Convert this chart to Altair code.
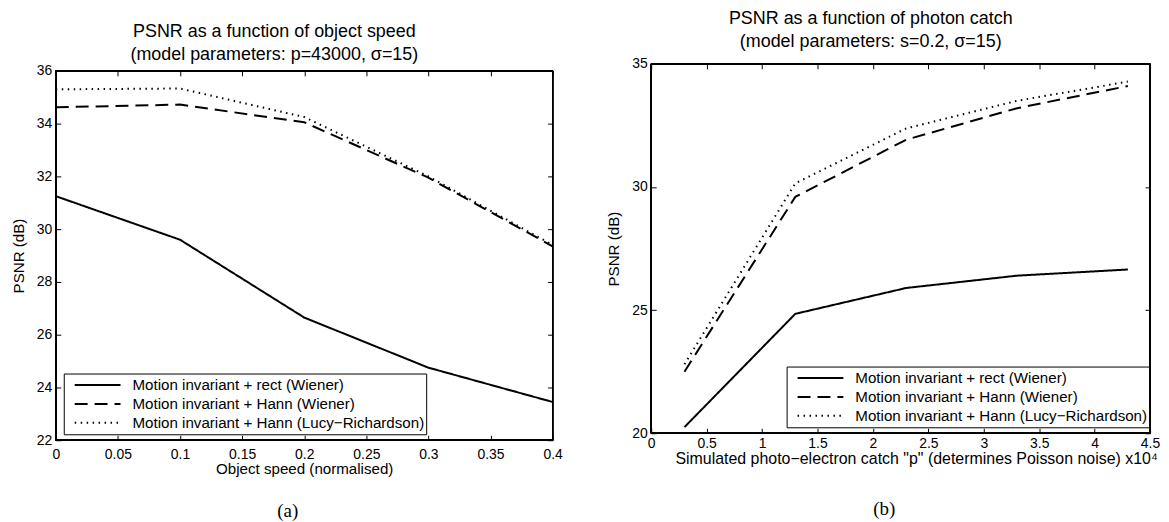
import altair as alt
import pandas as pd

FONT = "Liberation Sans"
SERIF = "Liberation Serif"

methods = [
    "Motion invariant + rect (Wiener)",
    "Motion invariant + Hann (Wiener)",
    "Motion invariant + Hann (Lucy\u2212Richardson)",
]
dash_range = [[1, 0], [13, 7], [1.5, 4.5]]
width_range = [2, 2, 1.6]

# Panel (a): PSNR vs object speed
speed = [0, 0.1, 0.2, 0.3, 0.4]
speed_rect = [31.25, 29.6, 26.65, 24.75, 23.45]
speed_hann_w = [34.62, 34.72, 34.05, 31.95, 29.35]
speed_hann_lr = [35.3, 35.33, 34.25, 32.0, 29.4]
speed_ticks = [0, 0.05, 0.1, 0.15, 0.2, 0.25, 0.3, 0.35, 0.4]
speed_yticks = [22, 24, 26, 28, 30, 32, 34, 36]

# Panel (b): PSNR vs photon catch (x10^4)
catch = [0.3, 1.3, 2.3, 3.3, 4.3]
catch_rect = [20.25, 24.85, 25.9, 26.4, 26.65]
catch_hann_w = [22.5, 29.6, 31.92, 33.2, 34.1]
catch_hann_lr = [22.8, 30.15, 32.38, 33.5, 34.28]
catch_ticks = [0, 0.5, 1, 1.5, 2, 2.5, 3, 3.5, 4, 4.5]
catch_yticks = [20, 25, 30, 35]

H = 371        # plot-box height of each panel
SHIFT = 7      # panel (a) box sits this much lower than panel (b)
GH = H + SHIFT # height of each panel group
TK = 5         # inward tick length
TICK = 14
TXT = 15.2


def panel(xs, series, xdom, xticks, ydom, yticks, title, xtitle, caption, W,
          top, legend_xy, title_offset, cap_xy, xlabel_pad, xtitle_x=None,
          xtitle_size=TXT):
    rows = []
    for m, vals in zip(methods, series):
        for xv, yv in zip(xs, vals):
            rows.append({"x": xv, "y": yv, "method": m})
    df = pd.DataFrame(rows)

    bottom_gap = GH - (top + H)
    xscale = alt.Scale(domain=xdom, nice=False, zero=False)
    yscale = alt.Scale(domain=ydom, nice=False, zero=False, range=[top + H, top])

    xaxis_kw = dict(
        values=xticks, format="~g", title=xtitle, orient="bottom", grid=False,
        ticks=True, tickSize=TK, domain=False, labelFlush=False, labelOverlap=False,
        labelPadding=xlabel_pad, titlePadding=0, offset=-(TK + bottom_gap),
        titleFontSize=xtitle_size,
    )
    if xtitle_x is not None:
        xaxis_kw["titleX"] = xtitle_x
        xaxis_kw["titleAlign"] = "center"
    yaxis = alt.Axis(
        values=yticks, format="d", title="PSNR (dB)", orient="left", grid=False,
        ticks=True, tickSize=TK, domain=False, labelFlush=False, labelOverlap=False,
        labelPadding=4, titlePadding=10, offset=-TK,
    )
    # inward tick marks along the top and right edges
    xtop = alt.Axis(
        values=xticks, orient="top", grid=False, labels=False, ticks=True, tickSize=TK,
        domain=False, title=None, offset=-(TK + top),
    )
    yright = alt.Axis(
        values=yticks, orient="right", grid=False, labels=False, ticks=True, tickSize=TK,
        domain=False, title=None, offset=-TK,
    )

    frame = alt.Chart(df).mark_rect(fillOpacity=0, stroke="black", strokeWidth=1).encode(
        x=alt.XDatum(xdom[0], scale=xscale, axis=None),
        x2=alt.X2Datum(xdom[1]),
        y=alt.YDatum(ydom[0], scale=yscale, axis=None),
        y2=alt.Y2Datum(ydom[1]),
    )
    ticks2 = alt.Chart(df).mark_point(opacity=0).encode(
        x=alt.X("x:Q", scale=xscale, axis=xtop),
        y=alt.Y("y:Q", scale=yscale, axis=yright),
    )
    lines = alt.Chart(df).mark_line(color="black").encode(
        x=alt.X("x:Q", scale=xscale, axis=alt.Axis(**xaxis_kw)),
        y=alt.Y("y:Q", scale=yscale, axis=yaxis),
        strokeDash=alt.StrokeDash(
            "method:N",
            scale=alt.Scale(domain=methods, range=dash_range),
            legend=alt.Legend(
                title=None, orient="none", legendX=legend_xy[0], legendY=legend_xy[1],
                fillColor="white", strokeColor="black", padding=2, cornerRadius=0,
                symbolType="stroke", symbolSize=46 * 46, symbolStrokeWidth=2,
                symbolStrokeColor="black", symbolOffset=8,
                labelFont=FONT, labelFontSize=TXT, labelColor="black",
                labelOffset=11, clipHeight=19, rowPadding=0, labelLimit=0,
            ),
        ),
        strokeWidth=alt.StrokeWidth(
            "method:N", scale=alt.Scale(domain=methods, range=width_range), legend=None
        ),
    )
    cap = alt.Chart(pd.DataFrame({"c": [caption]})).mark_text(
        font=SERIF, fontSize=19, color="black", align="center", baseline="middle"
    ).encode(text="c:N", x=alt.value(cap_xy[0]), y=alt.value(cap_xy[1]))

    return (
        alt.layer(frame, ticks2, lines, cap)
        .resolve_axis(x="independent", y="independent")
        .properties(
            width=W, height=GH,
            title=alt.TitleParams(
                text=title, font=FONT, fontSize=18, fontWeight="normal", color="black",
                anchor="middle", offset=title_offset, lineHeight=23, dx=-30,
            ),
        )
    )


left = panel(
    speed, [speed_rect, speed_hann_w, speed_hann_lr], [0, 0.4], speed_ticks, [22, 36],
    speed_yticks,
    ["PSNR as a function of object speed", "(model parameters: p=43000, \u03c3=15)"],
    "Object speed (normalised)", "(a)", 499,
    top=SHIFT, legend_xy=(8, 311), title_offset=0, cap_xy=(233, 449), xlabel_pad=7,
)
right = panel(
    catch, [catch_rect, catch_hann_w, catch_hann_lr], [0, 4.5], catch_ticks, [20, 35],
    catch_yticks,
    ["PSNR as a function of photon catch", "(model parameters: s=0.2, \u03c3=15)"],
    "Simulated photo\u2212electron catch \"p\" (determines Poisson noise) x10\u2074", "(b)", 501,
    top=0, legend_xy=(136, 304), title_offset=6, cap_xy=(234, 447), xlabel_pad=3,
    xtitle_x=266, xtitle_size=16,
)

chart = (
    alt.hconcat(left, right, spacing=99, bounds="flush")
    .resolve_scale(strokeDash="independent", strokeWidth="independent")
    .resolve_legend(strokeDash="independent")
    .properties(padding={"left": 2, "top": 0, "right": 0, "bottom": 0})
    .configure_view(stroke="transparent")
    .configure_axis(
        labelFont=FONT, labelFontSize=TICK, labelColor="black",
        titleFont=FONT, titleFontSize=TXT, titleFontWeight="normal", titleColor="black",
        tickColor="black", tickWidth=1, tickOpacity=1,
    )
)

chart.save("out.html", embed_options={"renderer": "svg", "actions": False})
